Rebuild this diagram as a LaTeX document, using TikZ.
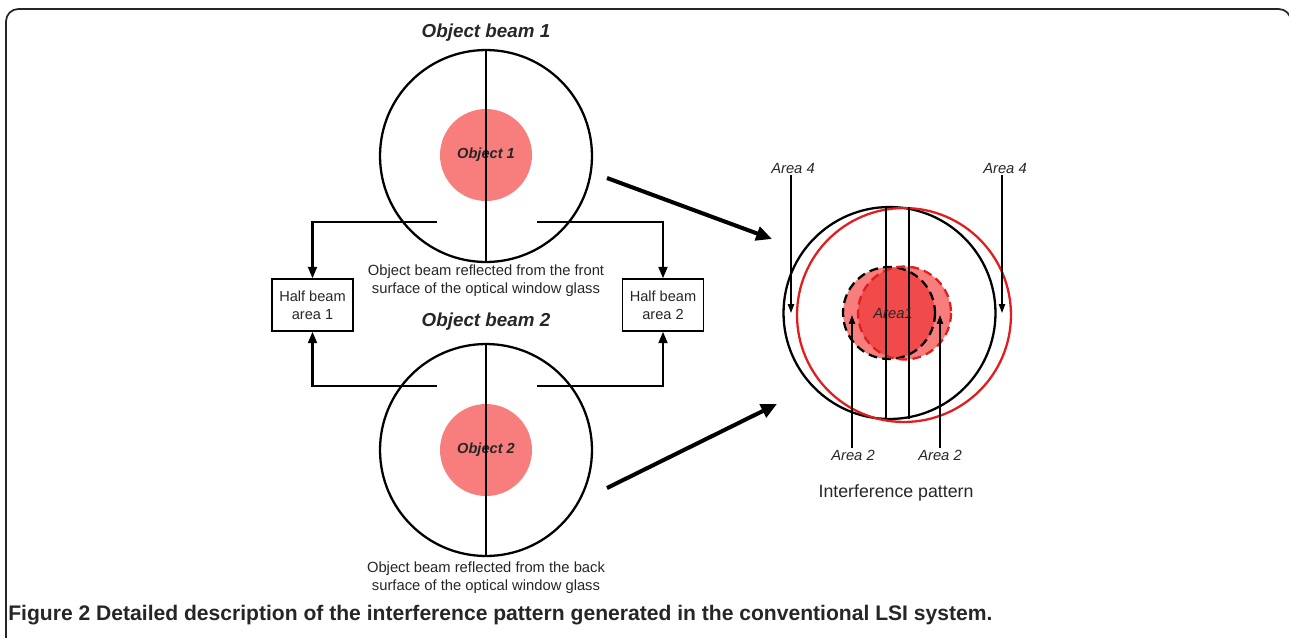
\documentclass[tikz,border=0pt]{standalone}
\usepackage{fontspec}
\setmainfont{Liberation Sans}
\usetikzlibrary{arrows.meta}
\definecolor{objred}{HTML}{F87E7E}
\definecolor{overlapred}{HTML}{F04A4A}
\definecolor{ringred}{HTML}{E01E1E}
\tikzset{%
  beam/.style     = {circle, draw, line width=1.3pt, inner sep=0pt,%
                     minimum size=4.24cm},%
  object/.style   = {circle, fill=objred, inner sep=0pt, minimum size=1.84cm,%
                     font=\fontsize{8.3}{10}\selectfont\bfseries\itshape},%
  halfbox/.style  = {rectangle, draw, line width=0.8pt, align=center,%
                     minimum width=1.62cm, minimum height=1.04cm, inner sep=1pt,%
                     font=\fontsize{8.3}{10.2}\selectfont},%
  title/.style    = {font=\fontsize{10.7}{12}\selectfont\bfseries\itshape},%
  note/.style     = {align=center, font=\fontsize{8.4}{10.2}\selectfont},%
  area/.style     = {inner sep=1pt, font=\fontsize{8.4}{10}\selectfont\itshape},%
  feed/.style     = {line width=1.35pt, -{Triangle[length=6.5pt,width=5pt]}},%
  pointer/.style  = {line width=0.8pt, -{Triangle[length=5pt,width=3.5pt]}},%
  toward/.style   = {line width=2.3pt, -{Triangle[length=9pt,width=8pt]}},%
  dashring/.style = {line width=1.3pt, dash pattern=on 5pt off 3pt}%
}
\begin{document}
\begin{tikzpicture}[x=0.02cm,y=-0.02cm,every node/.style={text=black!85}]
	\useasboundingbox (0,0) rectangle (1289,637);
	\draw[black!85, line width=1pt, rounded corners=7pt] (6,9) rectangle (1291,700);
	% object beam 1
	\node[title] (t1) at (486,33) {Object beam 1};
	\node[object] (o1) at (486,155) {Object 1};
	\node[beam] (c1) at (486,156) {};
	\draw[line width=1.3pt] (c1.north) -- (c1.south);
	\node[note] (n1) at (486,281) {Object beam reflected from the front\\surface of the optical window glass};
	% object beam 2
	\node[title] (t2) at (486,322) {Object beam 2};
	\node[object] (o2) at (486,450) {Object 2};
	\node[beam] (c2) at (486,450) {};
	\draw[line width=1.3pt] (c2.north) -- (c2.south);
	\node[note] (n2) at (486,578) {Object beam reflected from the back\\surface of the optical window glass};
	% half beams
	\node[halfbox] (h1) at (312.5,305) {Half beam\\area 1};
	\node[halfbox] (h2) at (663,305) {Half beam\\area 2};
	\coordinate (a1) at (437,222);
	\coordinate (a2) at (537,222);
	\coordinate (a3) at (437,386);
	\coordinate (a4) at (537,386);
	\draw[feed] (a1) -| (h1);
	\draw[feed] (a2) -| (h2);
	\draw[feed] (a3) -| (h1);
	\draw[feed] (a4) -| (h2);
	% to the pattern
	\coordinate (p1) at (607,178);
	\coordinate (q1) at (772,239);
	\coordinate (p2) at (607,488);
	\coordinate (q2) at (777,404);
	\draw[toward] (p1) -- (q1);
	\draw[toward] (p2) -- (q2);
	% interference pattern
	\fill[objred] (889,313) circle[radius=46];
	\fill[objred] (904.5,313) circle[radius=46.5];
	\begin{scope}
		\clip (889,313) circle[radius=46];
		\fill[overlapred] (904.5,313) circle[radius=46.5];
	\end{scope}
	\draw[dashring] (889,313) circle[radius=46];
	\draw[dashring, ringred] (904.5,313) circle[radius=46.5];
	\node[beam] (ib) at (889.5,313) {};
	\node[beam, draw=ringred, minimum size=4.28cm] (ir) at (904,315) {};
	\draw[line width=1.3pt] (886,207) -- (886,419);
	\draw[line width=1.3pt] (909,207) -- (909,419);
	\node[area] (a1c) at (893,313) {Area1};
	\node[area] (l4a) at (793,168) {Area 4};
	\node[area] (l4b) at (1005,168) {Area 4};
	\node[area] (l2a) at (853,455) {Area 2};
	\node[area] (l2b) at (940,455) {Area 2};
	\coordinate (e4a) at (791,313);
	\coordinate (e4b) at (1002,313);
	\coordinate (e2a) at (852,315);
	\coordinate (e2b) at (940,315);
	\draw[pointer] (l4a.south -| e4a) -- (e4a);
	\draw[pointer] (l4b.south -| e4b) -- (e4b);
	\draw[pointer] (l2a.north -| e2a) -- (e2a);
	\draw[pointer] (l2b.north -| e2b) -- (e2b);
	\node[font=\fontsize{10.1}{12}\selectfont] (ip) at (896,493) {Interference pattern};
	% caption
	\node[anchor=base west, inner sep=0pt, font=\fontsize{12}{14}\selectfont\bfseries] (cap) at (8,620)
		{Figure 2 Detailed description of the interference pattern generated in the conventional LSI system.};
\end{tikzpicture}
\end{document}
